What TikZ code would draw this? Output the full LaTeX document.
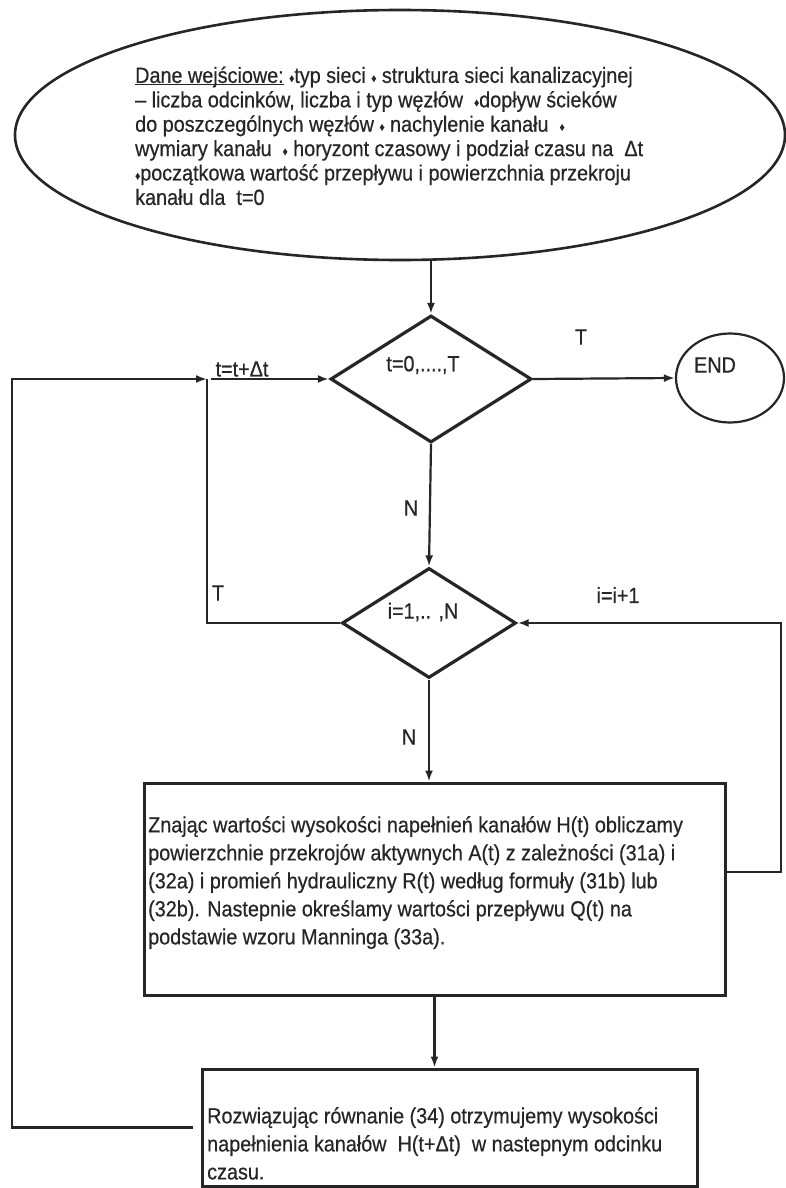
\documentclass[tikz,border=0pt]{standalone}
\usepackage{fontspec}
\setmainfont[FakeStretch=0.9, FakeBold=0.5]{Liberation Sans}
\usetikzlibrary{shapes.geometric,arrows.meta,calc}
\definecolor{ink}{HTML}{262626}
\newcommand{\dm}{{\fontsize{11}{11}\selectfont\raisebox{1pt}{♦}}}
% underline drawn just below the baseline
\newcommand{\undl}[1]{\setbox0=\hbox{#1}\rlap{\rule[-2.6pt]{\wd0}{1.1pt}}\box0\relax}

\begin{document}
\begin{tikzpicture}[x=1pt,y=-1pt,
  conn/.style={draw=ink, line width=2.2pt},
  arr/.style={conn, -{Latex[length=11pt,width=8pt]}},
  decision/.style={diamond, draw=ink, line width=3.2pt, inner sep=0pt},
  procbox/.style={rectangle, draw=ink, line width=3pt, inner sep=0pt},
  txt/.style={text=ink, inner sep=0pt, font=\fontsize{22}{28}\selectfont},
  para/.style={txt, align=left, anchor=north west}
]
% page
\path[use as bounding box, fill=white] (0,0) rectangle (786,1188);

% input data
\node[ellipse, draw=ink, line width=2.6pt, minimum width=770pt, minimum height=250pt, inner sep=0pt] (el) at (400,135) {};
\node[para, font=\fontsize{22}{24.4}\selectfont] (eltext) at (135,66.5) {\undl{Dane wejściowe:} \dm typ sieci \dm\ struktura sieci kanalizacyjnej\\
– liczba odcinków, liczba i typ węzłów \ \dm dopływ ścieków\\
do poszczególnych węzłów \dm\ nachylenie kanału \ \dm\\
wymiary kanału \ \dm\ horyzont czasowy i podział czasu na \ Δt\\
\dm początkowa wartość przepływu i powierzchnia przekroju\\
kanału dla \ t=0};

% time loop
\node[decision, minimum width=201pt, minimum height=127pt] (d1) at (431,379) {};
\node[txt] (d1t) at (423,365) {t=0,....,T};
\node[ellipse, draw=ink, line width=2.2pt, minimum width=108pt, minimum height=89pt, inner sep=0pt] (endn) at (730,378) {};
\node[txt] (endt) at (715,365) {END};
\node[txt] (lt1) at (581,337) {T};
\node[txt] (ltd) at (242,369) {t=t+Δt};

% section loop
\node[decision, minimum width=174pt, minimum height=110pt] (d2) at (429,623) {};
\node[txt] (d2t) at (423,612) {i=1,.. ,N};
\node[txt] (ln1) at (411,508) {N};
\node[txt] (lt2) at (218,593) {T};
\node[txt] (li) at (618,595) {i=i+1};
\node[txt] (ln2) at (409,737) {N};

% computation boxes
\node[procbox, minimum width=581pt, minimum height=212pt] (b1) at (434.5,889) {};
\node[para] (b1t) at (148,816) {Znając wartości wysokości napełnień kanałów H(t) obliczamy\\
powierzchnie przekrojów aktywnych A(t) z zależności (31a) i\\
(32a) i promień hydrauliczny R(t) według formuły (31b) lub\\
(32b). Nastepnie określamy wartości przepływu Q(t) na\\
podstawie wzoru Manninga (33a).};

\node[procbox, minimum width=495pt, minimum height=117pt] (b2) at (449.5,1127.5) {};
\node[para] (b2t) at (207,1107) {Rozwiązując równanie (34) otrzymujemy wysokości\\
napełnienia kanałów \ H(t+Δt) \ w nastepnym odcinku\\
czasu.};

% junctions and bends
\coordinate (j) at (207,379);
\coordinate (lc) at (12,1127.5);
\coordinate (rc) at (781,872);

% connectors
\draw[arr] (d1.north |- el.south) -- (d1.north);
\draw[arr] (d1.east) -- (endn.west);
\draw[arr] (d1.south) -- (d2.north);
\draw[arr] (d2.south) -- (d2.south |- b1.north);
\draw[arr] (b1.south) -- (b1.south |- b2.north);
\draw[arr, shorten <=8pt] (b2.west) -- (lc) |- (j);
\draw[arr, shorten <=4pt] (j) -- (d1.west);
\draw[conn] (j) |- (d2.west);
\draw[arr] (b1.east |- rc) -- (rc) |- (d2.east);
\end{tikzpicture}
\end{document}
